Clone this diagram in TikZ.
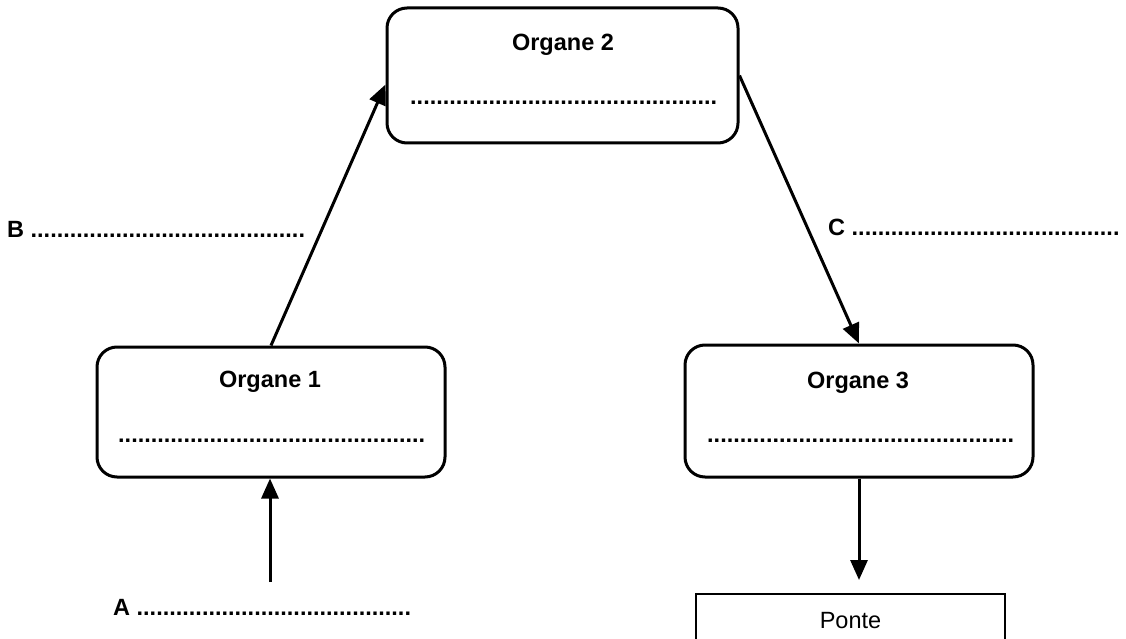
\documentclass[tikz,border=0pt]{standalone}
\usepackage{fontspec}
\setmainfont{Liberation Sans}
\usetikzlibrary{arrows.meta}
\begin{document}
\begin{tikzpicture}[x=1pt,y=-1pt,
  organ/.style={draw,line width=3pt,rounded corners=20pt,inner sep=0pt},
  lbl/.style={font=\fontsize{23.5}{28}\selectfont\bfseries,inner sep=0pt,anchor=base},
  dotrow/.style={font=\fontsize{23.5}{28}\selectfont\bfseries,inner sep=0pt,anchor=base west},
  arr/.style={line width=3pt,-{Triangle[length=20pt,width=17pt]}}]
\useasboundingbox (0,0) rectangle (1126,639);
\clip (0,0) rectangle (1126,639);
% boxes
\node[organ,minimum width=351pt,minimum height=135pt] (o2) at (562.5,75.5) {};
\node[organ,minimum width=348pt,minimum height=130pt] (o1) at (271,412) {};
\node[organ,minimum width=348pt,minimum height=132pt] (o3) at (859,411) {};
\node[draw,line width=1.5pt,minimum width=309pt,minimum height=54pt,anchor=north,
      font=\fontsize{23.5}{28}\selectfont] (ponte) at (850.5,593) {Ponte};
% titles
\node[lbl] (t2) at (563,51) {Organe 2};
\node[lbl] (t1) at (270,387) {Organe 1};
\node[lbl] (t3) at (858,388) {Organe 3};
% dotted fields
\node[dotrow] (d2) at (410,105) {\foreach \i in {1,...,47}{.}};
\node[dotrow] (d1) at (118,442) {\foreach \i in {1,...,47}{.}};
\node[dotrow] (d3) at (707,442) {\foreach \i in {1,...,47}{.}};
\node[dotrow] (lb) at (7,237) {B \foreach \i in {1,...,42}{.}};
\node[dotrow] (lc) at (828,235) {C \foreach \i in {1,...,41}{.}};
\node[dotrow] (la) at (113,615) {A \foreach \i in {1,...,42}{.}};
% connectors
\coordinate (a0) at (270,582);
\draw[arr] (o1.north) -- ([yshift=-9pt]o2.west);
\draw[arr] (o2.east) -- (o3.north);
\draw[arr] (a0) -- (a0 |- o1.south);
\draw[arr,shorten >=13pt] (o3.south) -- (o3.south |- ponte.north);
\end{tikzpicture}
\end{document}
